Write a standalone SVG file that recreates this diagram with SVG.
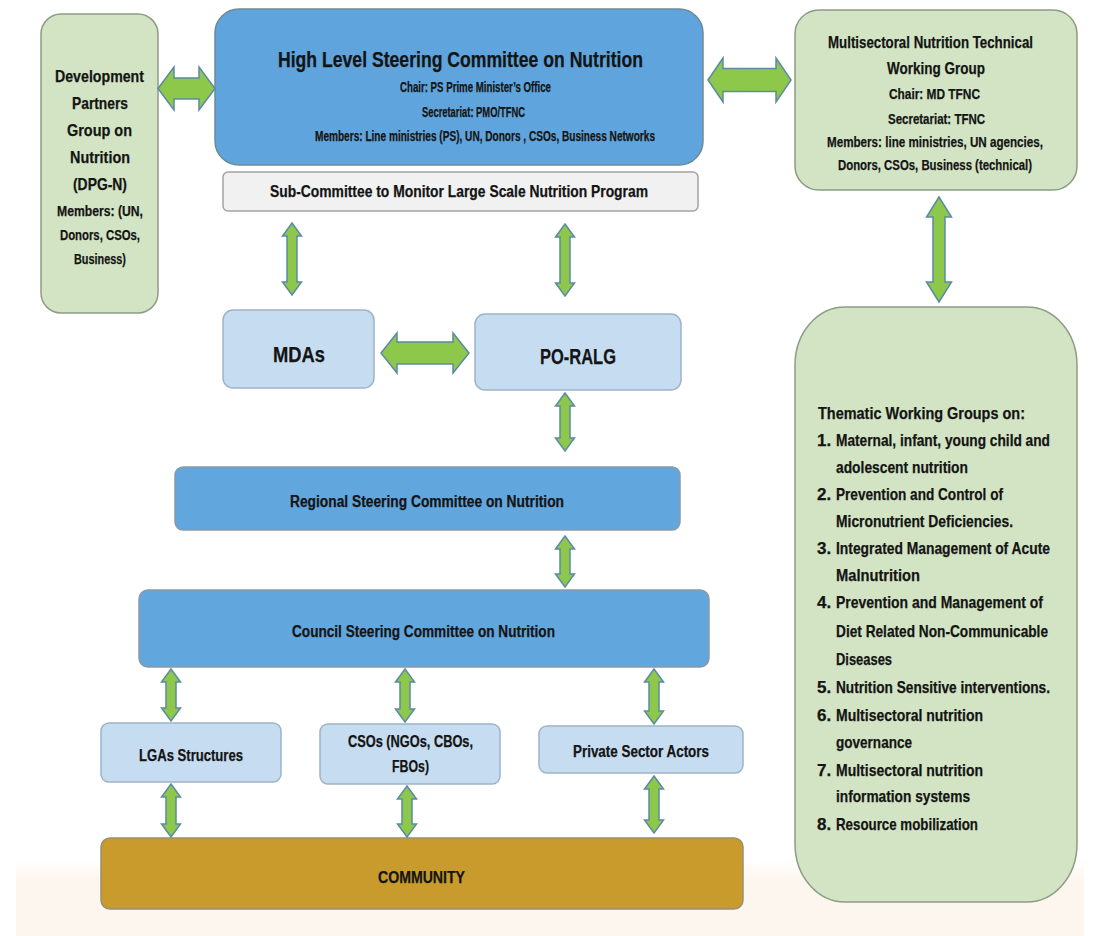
<svg xmlns="http://www.w3.org/2000/svg" width="1099" height="936" viewBox="0 0 1099 936">
<defs>
<linearGradient id="bg" x1="0" y1="0" x2="0" y2="1">
<stop offset="0" stop-color="#ffffff"/>
<stop offset="0.25" stop-color="#fdf6ee"/>
<stop offset="1" stop-color="#fdf6ee"/>
</linearGradient>
<style>
text{font-family:"Liberation Sans",Arial,sans-serif;font-weight:bold;fill:#141414;stroke:#141414;stroke-width:0.25;}
.arr{fill:#8dc84a;stroke:#5b8aa6;stroke-width:1.5;stroke-linejoin:miter;}
.blue{fill:#5fa4dc;stroke:#6d8a96;stroke-width:1.5;}
.blue2{fill:#62a6de;stroke:#8a9aa6;stroke-width:1.5;}
.green{fill:#d2e4c3;stroke:#8c9c86;stroke-width:1.5;}
.lblue{fill:#c6ddf1;stroke:#9fb3c6;stroke-width:1.5;}
.grey{fill:#f1f1f1;stroke:#a3a3a3;stroke-width:1.5;}
.gold{fill:#c89b2c;stroke:#98906e;stroke-width:1.5;}
.s22{font-size:22px;}
.s17{font-size:17px;}
.s16{font-size:16px;}
.s15{font-size:15px;}
.s14{font-size:14.5px;}
</style>
</defs>
<rect x="0" y="0" width="1099" height="936" fill="#ffffff"/>
<rect x="16" y="860" width="1068" height="76" fill="url(#bg)"/>

<g id="dpgn">
<rect class="green" x="41" y="14" width="117" height="299" rx="20" ry="20"/>
<text class="s17" x="55" y="82" textLength="89" lengthAdjust="spacingAndGlyphs">Development</text>
<text class="s17" x="72" y="109" textLength="56" lengthAdjust="spacingAndGlyphs">Partners</text>
<text class="s17" x="67" y="136" textLength="65" lengthAdjust="spacingAndGlyphs">Group  on</text>
<text class="s17" x="70" y="163" textLength="60" lengthAdjust="spacingAndGlyphs">Nutrition</text>
<text class="s17" x="73" y="190" textLength="54" lengthAdjust="spacingAndGlyphs">(DPG-N)</text>
<text class="s14" x="57" y="216" textLength="86" lengthAdjust="spacingAndGlyphs">Members: (UN,</text>
<text class="s14" x="60" y="240" textLength="80" lengthAdjust="spacingAndGlyphs">Donors, CSOs,</text>
<text class="s14" x="74" y="264" textLength="52" lengthAdjust="spacingAndGlyphs">Business)</text>
</g>

<g id="hlsc">
<rect class="blue" x="215" y="9" width="488" height="156" rx="24" ry="24"/>
<text class="s22" x="278" y="67" textLength="365" lengthAdjust="spacingAndGlyphs">High Level Steering Committee on Nutrition</text>
<text class="s14" x="400" y="92" textLength="151" lengthAdjust="spacingAndGlyphs">Chair: PS Prime Minister’s Office</text>
<text class="s14" x="422" y="117" textLength="103" lengthAdjust="spacingAndGlyphs">Secretariat: PMO/TFNC</text>
<text class="s14" x="315" y="141" textLength="340" lengthAdjust="spacingAndGlyphs">Members: Line ministries (PS), UN, Donors , CSOs, Business Networks</text>
</g>

<g id="subcommittee">
<rect class="grey" x="223" y="172" width="475" height="39" rx="5" ry="5"/>
<text class="s17" x="270" y="197" textLength="378" lengthAdjust="spacingAndGlyphs">Sub-Committee to Monitor Large Scale Nutrition Program</text>
</g>

<g id="mntwg">
<rect class="green" x="795" y="10" width="282" height="180" rx="24" ry="24"/>
<text class="s17" x="828" y="48" textLength="205" lengthAdjust="spacingAndGlyphs">Multisectoral Nutrition Technical</text>
<text class="s17" x="887" y="74" textLength="98" lengthAdjust="spacingAndGlyphs">Working Group</text>
<text class="s14" x="889" y="99" textLength="91" lengthAdjust="spacingAndGlyphs">Chair: MD TFNC</text>
<text class="s14" x="888" y="124" textLength="97" lengthAdjust="spacingAndGlyphs">Secretariat: TFNC</text>
<text class="s14" x="827" y="147" textLength="216" lengthAdjust="spacingAndGlyphs">Members: line ministries, UN agencies,</text>
<text class="s14" x="838" y="170" textLength="194" lengthAdjust="spacingAndGlyphs">Donors, CSOs, Business (technical)</text>
</g>

<g id="thematic">
<rect class="green" x="795" y="307" width="282" height="595" rx="50" ry="58"/>
<text class="s17" x="818" y="419" textLength="207" lengthAdjust="spacingAndGlyphs">Thematic Working Groups on:</text>
<text class="s17" x="817" y="446">1.</text>
<text class="s16" x="836" y="446" textLength="214" lengthAdjust="spacingAndGlyphs">Maternal, infant, young child and</text>
<text class="s17" x="836" y="473" textLength="132" lengthAdjust="spacingAndGlyphs">adolescent nutrition</text>
<text class="s17" x="817" y="500">2.</text>
<text class="s17" x="836" y="500" textLength="167" lengthAdjust="spacingAndGlyphs">Prevention and Control of</text>
<text class="s17" x="836" y="527" textLength="177" lengthAdjust="spacingAndGlyphs">Micronutrient Deficiencies.</text>
<text class="s17" x="817" y="554">3.</text>
<text class="s17" x="836" y="554" textLength="214" lengthAdjust="spacingAndGlyphs">Integrated Management of Acute</text>
<text class="s17" x="836" y="581" textLength="84" lengthAdjust="spacingAndGlyphs">Malnutrition</text>
<text class="s17" x="817" y="608">4.</text>
<text class="s17" x="836" y="608" textLength="207" lengthAdjust="spacingAndGlyphs">Prevention and Management of</text>
<text class="s17" x="836" y="637" textLength="212" lengthAdjust="spacingAndGlyphs">Diet Related Non-Communicable</text>
<text class="s17" x="836" y="665" textLength="56" lengthAdjust="spacingAndGlyphs">Diseases</text>
<text class="s17" x="817" y="693">5.</text>
<text class="s16" x="836" y="693" textLength="214" lengthAdjust="spacingAndGlyphs">Nutrition Sensitive interventions.</text>
<text class="s17" x="817" y="721">6.</text>
<text class="s17" x="836" y="721" textLength="147" lengthAdjust="spacingAndGlyphs">Multisectoral nutrition</text>
<text class="s17" x="836" y="748" textLength="76" lengthAdjust="spacingAndGlyphs">governance</text>
<text class="s17" x="817" y="776">7.</text>
<text class="s17" x="836" y="776" textLength="147" lengthAdjust="spacingAndGlyphs">Multisectoral nutrition</text>
<text class="s17" x="836" y="802" textLength="134" lengthAdjust="spacingAndGlyphs">information systems</text>
<text class="s17" x="817" y="830">8.</text>
<text class="s17" x="836" y="830" textLength="142" lengthAdjust="spacingAndGlyphs">Resource mobilization</text>
</g>

<g id="mdas">
<rect class="lblue" x="223" y="310" width="151" height="78" rx="10" ry="10"/>
<text class="s22" x="273" y="362" textLength="52" lengthAdjust="spacingAndGlyphs">MDAs</text>
</g>

<g id="poralg">
<rect class="lblue" x="475" y="314" width="206" height="76" rx="10" ry="10"/>
<text class="s22" x="540" y="364" textLength="76" lengthAdjust="spacingAndGlyphs">PO-RALG</text>
</g>

<g id="regional">
<rect class="blue2" x="175" y="467" width="505" height="63" rx="8" ry="8"/>
<text class="s16" x="290" y="507" textLength="274" lengthAdjust="spacingAndGlyphs">Regional Steering Committee on Nutrition</text>
</g>

<g id="council">
<rect class="blue2" x="139" y="590" width="570" height="77" rx="9" ry="9"/>
<text class="s16" x="292" y="637" textLength="263" lengthAdjust="spacingAndGlyphs">Council Steering Committee on Nutrition</text>
</g>

<g id="lgas">
<rect class="lblue" x="101" y="723" width="180" height="59" rx="8" ry="8"/>
<text class="s16" x="139" y="761" textLength="104" lengthAdjust="spacingAndGlyphs">LGAs Structures</text>
</g>

<g id="csos">
<rect class="lblue" x="320" y="724" width="180" height="60" rx="8" ry="8"/>
<text class="s16" x="348" y="747" textLength="125" lengthAdjust="spacingAndGlyphs">CSOs (NGOs, CBOs,</text>
<text class="s16" x="392" y="772" textLength="37" lengthAdjust="spacingAndGlyphs">FBOs)</text>
</g>

<g id="private">
<rect class="lblue" x="539" y="726" width="204" height="47" rx="8" ry="8"/>
<text class="s16" x="573" y="757" textLength="136" lengthAdjust="spacingAndGlyphs">Private Sector Actors</text>
</g>

<g id="community">
<rect class="gold" x="101" y="838" width="642" height="71" rx="9" ry="9"/>
<text class="s16" x="378" y="883" textLength="87" lengthAdjust="spacingAndGlyphs">COMMUNITY</text>
</g>

<g id="connectors">
<polygon class="arr" points="158,88.5 174,67 174,78 199,78 199,67 215,88.5 199,110 199,99 174,99 174,110"/>
<polygon class="arr" points="708,80 723,58 723,68.5 776,68.5 776,58 791,80 776,102 776,91.5 723,91.5 723,102"/>
<polygon class="arr" points="381,353 397,333 397,342 453,342 453,333 469,353 453,373 453,364 397,364 397,373"/>
<polygon class="arr" points="939,197 951.5,217 945,217 945,282 951.5,282 939,302 926.5,282 933,282 933,217 926.5,217"/>
<polygon class="arr" points="292,223 301.5,236 297,236 297,282 301.5,282 292,295 282.5,282 287,282 287,236 282.5,236"/>
<polygon class="arr" points="565,224 574.5,237 570,237 570,283 574.5,283 565,296 555.5,283 560,283 560,237 555.5,237"/>
<polygon class="arr" points="565,393 574.5,406 570,406 570,438 574.5,438 565,451 555.5,438 560,438 560,406 555.5,406"/>
<polygon class="arr" points="565,536 574.5,549 570,549 570,574 574.5,574 565,587 555.5,574 560,574 560,549 555.5,549"/>
<polygon class="arr" points="171,669 180.5,682 176,682 176,708 180.5,708 171,721 161.5,708 166,708 166,682 161.5,682"/>
<polygon class="arr" points="405,669 414.5,682 410,682 410,709 414.5,709 405,722 395.5,709 400,709 400,682 395.5,682"/>
<polygon class="arr" points="654,669 663.5,682 659,682 659,711 663.5,711 654,724 644.5,711 649,711 649,682 644.5,682"/>
<polygon class="arr" points="171,784 180.5,797 176,797 176,824 180.5,824 171,837 161.5,824 166,824 166,797 161.5,797"/>
<polygon class="arr" points="407,786 416.5,799 412,799 412,824 416.5,824 407,837 397.5,824 402,824 402,799 397.5,799"/>
<polygon class="arr" points="654,776 663.5,789 659,789 659,820 663.5,820 654,833 644.5,820 649,820 649,789 644.5,789"/>
</g>
</svg>
